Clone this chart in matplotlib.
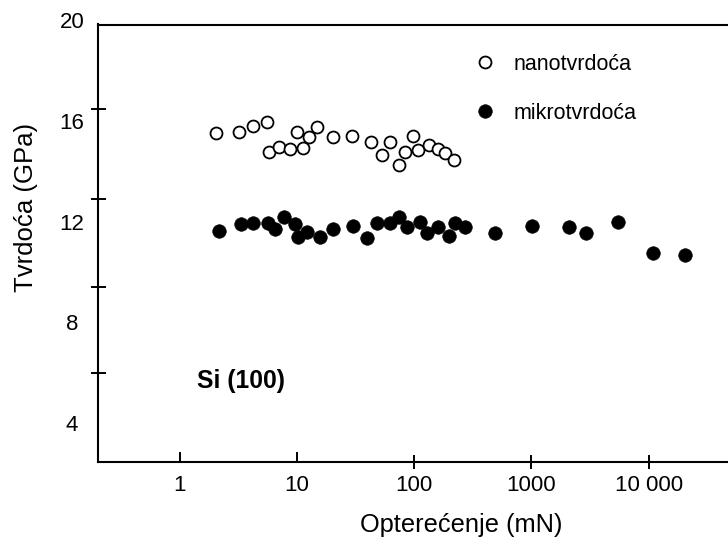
import matplotlib
matplotlib.use("Agg")
import matplotlib.pyplot as plt
import matplotlib.lines as mlines
import matplotlib.transforms as mtransforms
from matplotlib.ticker import FixedLocator, FixedFormatter, NullFormatter, NullLocator

plt.rcParams['font.family'] = ['Liberation Sans', 'DejaVu Sans']

# Nanoindentation hardness of Si (100)
nano_load = [2.05, 3.24, 4.21, 5.54, 5.83, 7.09, 8.75, 10.1, 11.4, 12.7, 14.8, 20.5,
             29.4, 42.9, 53.6, 62.4, 74.8, 83.7, 98.5, 108.7, 134, 159, 184, 220]
nano_hardness = [15.52, 15.55, 15.81, 15.98, 14.76, 14.98, 14.89, 15.58, 14.92, 15.36, 15.78, 15.36,
                 15.41, 15.16, 14.65, 15.16, 14.25, 14.78, 15.41, 14.85, 15.05, 14.88, 14.72, 14.45]

# Microindentation (Vickers) hardness of Si (100)
micro_load = [2.18, 3.32, 4.21, 5.71, 6.52, 7.78, 9.65, 10.3, 12.15, 15.8, 20.5, 30.3,
              39.5, 48.0, 62.4, 74.8, 86.5, 112, 128, 161, 200, 223, 272, 490,
              1007, 2096, 2926, 5452, 10965, 20430]
micro_hardness = [11.64, 11.90, 11.94, 11.94, 11.70, 12.20, 11.90, 11.40, 11.60, 11.38, 11.70, 11.83,
                  11.34, 11.94, 11.96, 12.17, 11.78, 12.00, 11.56, 11.80, 11.43, 11.94, 11.80, 11.54,
                  11.84, 11.78, 11.54, 11.98, 10.74, 10.68]

x_ticks = [1, 10, 100, 1000, 10000]
x_tick_labels = ["1", "10", "100", "1000", "10 000"]
y_ticks = [4, 8, 12, 16, 20]
y_tick_labels = ["4", "8", "12", "16", "20"]
y_tick_marks = [5.97, 9.42, 12.90, 16.47]

W, H, DPI = 728, 544, 100
fig = plt.figure(figsize=(W / DPI, H / DPI), dpi=DPI)
ax_left, ax_top, ax_bottom = 98, 24.5, 462
ax_w, ax_h = W - ax_left, ax_bottom - ax_top
ax = fig.add_axes([ax_left / W, (H - ax_bottom) / H, 1 - ax_left / W, ax_h / H])

ax.plot(micro_load, micro_hardness, linestyle='none', marker='o', ms=9.8,
        mfc='black', mec='black', mew=0.4, label='mikrotvrdoća', zorder=3)
ax.plot(nano_load, nano_hardness, linestyle='none', marker='o', ms=8.6,
        mfc='white', mec='black', mew=1.3, label='nanotvrdoća', zorder=4)

ax.set_xscale('log')
ax.set_xlim(0.2018, 47540)
ax.set_ylim(2.445, 19.84)

for side in ('left', 'top', 'bottom'):
    ax.spines[side].set_linewidth(1.5)
ax.spines['right'].set_visible(False)

# x axis: decades of load
ax.xaxis.set_major_locator(FixedLocator(x_ticks))
ax.xaxis.set_major_formatter(FixedFormatter(x_tick_labels))
ax.xaxis.set_minor_locator(NullLocator())
ax.tick_params(axis='x', which='major', direction='inout', length=9.4, width=1.4,
               labelsize=16, pad=4.7, top=False)
# the two lowest decades carry inward-only marks
for tick in ax.xaxis.get_major_ticks()[:2]:
    tick.tick1line.set_marker(mlines.TICKUP)
    tick.tick1line.set_markersize(7)

# y axis: tick marks and hardness labels
ax.yaxis.set_major_locator(NullLocator())
ax.yaxis.set_minor_locator(FixedLocator(y_tick_marks))
ax.yaxis.set_minor_formatter(NullFormatter())
ax.tick_params(axis='y', which='minor', direction='inout', length=10.8, width=1.4)
label_tf = mtransforms.blended_transform_factory(ax.transAxes, ax.transData)
for v, s in zip(y_ticks, y_tick_labels):
    ax.text((72 - ax_left) / ax_w, v, s, transform=label_tf, ha='center',
            va='center_baseline', fontsize=16, clip_on=False)

ax.set_xlabel('Opterećenje (mN)', fontsize=18.3)
ax.xaxis.set_label_coords((461 - ax_left) / ax_w, (ax_bottom - 513) / ax_h)
ax.xaxis.label.set_verticalalignment('top')
ax.set_ylabel('Tvrdoća (GPa)', fontsize=18.5)
ax.yaxis.set_label_coords((38.5 - ax_left) / ax_w, (ax_bottom - 207) / ax_h)

ax.text((197 - ax_left) / ax_w, (ax_bottom - 381) / ax_h, 'Si (100)', transform=ax.transAxes,
        fontsize=17.8, fontweight='bold', ha='left', va='center')

handles, labels = ax.get_legend_handles_labels()
ax.legend(handles[::-1], labels[::-1], loc='upper left',
          bbox_to_anchor=(474.25 / W, 1 - 53.6 / H), bbox_transform=fig.transFigure,
          frameon=False, fontsize=15.5, numpoints=1, handlelength=1.0,
          handletextpad=0.82, labelspacing=1.3, borderpad=0, borderaxespad=0)

fig.savefig('out.png', dpi=DPI)
